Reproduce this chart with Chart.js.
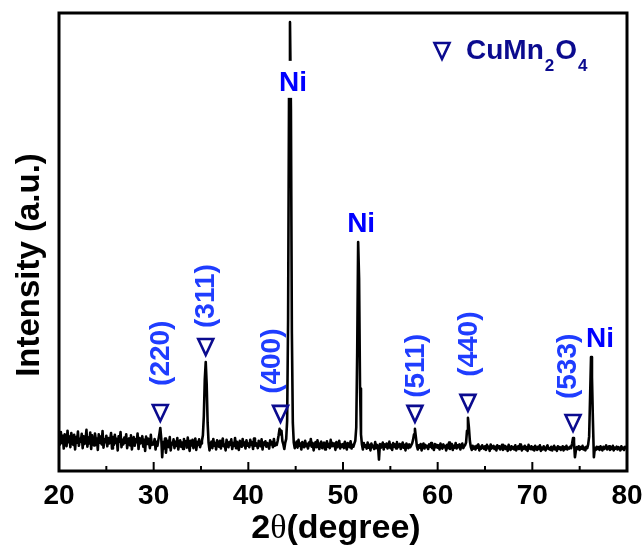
<!DOCTYPE html>
<html>
<head>
<meta charset="utf-8">
<script src="https://cdn.jsdelivr.net/npm/chart.js@4.4.1/dist/chart.umd.min.js"></script>
<style>
  html, body { margin: 0; padding: 0; background: #fff; }
  canvas { display: block; }
</style>
</head>
<body>
<canvas id="xrd" width="643" height="548"></canvas>
<script>
// XRD pattern, 2θ = 20–80°, sampled every 0.1°; one intensity list per 10° span
const STEP = 0.1;

const span20 = [
  72,58,85,61,77,49,80,66,54,88, 63,75,52,83,69,57,79,47,74,62,
  86,55,70,64,81,50,76,59,68,90, 53,73,60,84,48,78,65,56,82,67,
  71,46,80,62,75,58,87,51,69,63, 77,54,72,60,66,83,49,74,57,79,
  61,70,45,76,64,85,52,68,58,73, 62,80,50,67,71,56,78,47,65,74,
  55,69,63,82,48,72,60,66,76,53, 68,44,75,59,71,64,50,79,57,62
];
const span30 = [
  58,70,47,64,55,68,80,94,72,30, 63,49,71,40,60,66,52,74,45,61,
  58,69,50,64,55,72,47,60,67,53, 62,48,70,57,65,51,73,59,44,66,
  56,68,50,61,71,46,63,57,69,52, 60,66,78,120,200,238,190,105,62,45,
  58,64,50,70,55,61,47,67,59,53, 66,49,62,71,54,58,45,68,60,52,
  63,57,69,48,61,55,72,50,64,58, 46,66,59,53,70,56,62,49,67,55
];
const span40 = [
  60,52,68,57,63,48,71,55,61,58, 50,66,59,54,69,47,62,57,65,53,
  61,56,49,67,58,63,52,70,55,60, 57,66,78,92,80,88,65,58,48,62,
  70,110,330,830,980,790,300,105,62,50, 58,64,51,68,55,60,47,63,57,52,
  66,54,59,49,62,56,70,53,61,45, 57,63,52,67,55,48,60,64,50,58,
  62,47,56,65,53,59,50,68,54,61, 55,60,46,63,52,57,66,49,58,53
];
const span50 = [
  59,50,64,54,47,61,56,52,65,49, 57,53,60,66,95,260,500,420,180,80,
  58,47,61,53,56,49,62,51,57,45, 60,52,55,48,63,50,57,54,25,59,
  51,56,62,47,58,53,60,49,55,64, 50,57,46,61,53,58,49,63,52,56,
  59,48,55,62,51,57,45,60,54,50, 58,52,56,60,68,80,92,74,55,47,
  56,51,59,45,54,60,49,57,52,55, 48,58,53,61,50,55,46,59,52,57
];
const span60 = [
  51,56,47,60,53,49,58,52,55,45, 57,50,62,48,54,59,46,55,51,61,
  49,56,52,58,47,55,60,50,54,57, 62,88,116,95,66,52,46,55,49,53,
  47,55,51,58,45,53,49,56,52,48, 54,46,57,50,53,44,58,49,52,55,
  48,53,45,56,50,54,47,52,57,46, 51,55,48,53,44,57,50,46,54,49,
  52,47,56,45,51,54,48,58,50,45, 53,49,55,47,52,44,57,50,48,54
];
const span70 = [
  47,52,45,55,50,46,53,48,56,44, 51,47,54,49,45,52,56,48,50,46,
  53,45,50,55,47,51,44,54,49,52, 46,50,54,45,52,48,55,47,51,49,
  53,50,60,72,63,30,45,52,48,54, 46,52,49,55,47,51,45,53,50,58,
  75,160,249,205,110,30,50,46,53,48, 52,46,54,49,45,53,48,51,56,47,
  50,54,46,52,48,55,45,51,49,53, 47,52,50,45,54,48,51,46,53,50
];
const span80 = [49];

const spans = [[20, span20], [30, span30], [40, span40], [50, span50], [60, span60], [70, span70], [80, span80]];

// Reflection positions (2θ) and their labels
const ni2Theta = [44.4, 51.6, 76.2];
const spinel2Theta = [30.7, 35.5, 43.4, 57.6, 63.2, 74.3];
const spinelHkl = ['(220)', '(311)', '(400)', '(511)', '(440)', '(533)'];
const xTickValues = [20, 30, 40, 50, 60, 70, 80];

const pattern = [];
spans.forEach(([start, vals]) => {
  vals.forEach((v, i) => pattern.push({ x: +(start + i * STEP).toFixed(1), y: v }));
});

function peakHeight(t, half = 0.25) {
  let m = 0;
  pattern.forEach(p => { if (Math.abs(p.x - t) <= half + 1e-9 && p.y > m) m = p.y; });
  return m;
}

const FONT = "'Liberation Sans', Arial, Helvetica, sans-serif";
const NI_BLUE = '#0000ff';
const HKL_BLUE = '#1f3dff';
const NAVY = '#0b0b8f';

function drawTriangle(ctx, cx, bottom, w, h) {
  ctx.beginPath();
  ctx.moveTo(cx - w / 2, bottom - h);
  ctx.lineTo(cx + w / 2, bottom - h);
  ctx.lineTo(cx, bottom);
  ctx.closePath();
  ctx.stroke();
}

const decor = {
  id: 'xrdDecor',
  afterDatasetsDraw(chart) {
    const { ctx, chartArea: a, scales: { x, y } } = chart;
    ctx.save();

    // frame
    ctx.strokeStyle = '#000';
    ctx.lineWidth = 3;
    ctx.strokeRect(a.left, a.top, a.right - a.left, a.bottom - a.top);

    // inward ticks on the 2θ axis
    ctx.lineWidth = 2;
    for (let v = 20; v <= 80; v += 5) {
      const px = x.getPixelForValue(v);
      const len = v % 10 === 0 ? 9 : 5;
      ctx.beginPath();
      ctx.moveTo(px, a.bottom);
      ctx.lineTo(px, a.bottom - len);
      ctx.stroke();
    }

    // Ni reflections
    const niDx = [3, 3, 9];
    ctx.font = `bold 28px ${FONT}`;
    ctx.textAlign = 'center';
    ctx.textBaseline = 'alphabetic';
    ni2Theta.forEach((t, i) => {
      const cx = x.getPixelForValue(t) + niDx[i];
      if (i === 0) {
        // label sits on the strongest line, over a white patch
        const base = y.getPixelForValue(830);
        ctx.fillStyle = '#fff';
        ctx.fillRect(cx - 16, base - 30, 30, 37);
        ctx.fillStyle = NI_BLUE;
        ctx.fillText('Ni', cx, base);
      } else {
        const top = y.getPixelForValue(peakHeight(t));
        ctx.fillStyle = NI_BLUE;
        ctx.fillText('Ni', cx, top - 10);
      }
    });

    // CuMn2O4 reflections: open triangle plus vertical (hkl)
    const hklDx = [0, 0, -9, 0, 0, -6];
    const hklGap = [15, 7, 8, 4, 14, 12];
    spinel2Theta.forEach((t, i) => {
      const cx = x.getPixelForValue(t);
      const top = y.getPixelForValue(peakHeight(t));
      const triBottom = top - 7;
      ctx.strokeStyle = NAVY;
      ctx.lineWidth = 2.6;
      ctx.lineJoin = 'miter';
      drawTriangle(ctx, cx, triBottom, 15, 16);
      ctx.save();
      ctx.translate(cx + hklDx[i], triBottom - 20 - hklGap[i]);
      ctx.rotate(-Math.PI / 2);
      ctx.font = `bold 28px ${FONT}`;
      ctx.textAlign = 'left';
      ctx.textBaseline = 'middle';
      ctx.fillStyle = HKL_BLUE;
      ctx.fillText(spinelHkl[i], 0, 1);
      ctx.restore();
    });

    // legend
    const lx = a.right - 185;
    const ly = a.top + 46;
    ctx.strokeStyle = NAVY;
    ctx.lineWidth = 2.6;
    drawTriangle(ctx, lx, ly, 15, 16);
    ctx.fillStyle = NAVY;
    ctx.textAlign = 'left';
    ctx.textBaseline = 'alphabetic';
    let tx = lx + 24;
    const base = a.top + 46;
    const parts = [['CuMn', 28, 0], ['2', 17, 12], ['O', 28, 0], ['4', 17, 12]];
    parts.forEach(([s, size, drop]) => {
      ctx.font = `bold ${size}px ${FONT}`;
      ctx.fillText(s, tx, base + drop);
      tx += ctx.measureText(s).width + 1;
    });

    // axis titles
    ctx.fillStyle = '#000';
    ctx.save();
    ctx.translate(30, (a.top + a.bottom) / 2 + 23);
    ctx.rotate(-Math.PI / 2);
    ctx.font = `bold 33px ${FONT}`;
    ctx.textAlign = 'center';
    ctx.textBaseline = 'middle';
    ctx.fillText('Intensity (a.u.)', 0, 0);
    ctx.restore();

    const tParts = [['2', `bold 34px ${FONT}`], ['θ', "34px 'Liberation Serif', 'Times New Roman', serif"], ['(degree)', `bold 34px ${FONT}`]];
    let total = 0;
    tParts.forEach(([s, f]) => { ctx.font = f; total += ctx.measureText(s).width; });
    let sx = 336 - total / 2;
    ctx.textAlign = 'left';
    ctx.textBaseline = 'alphabetic';
    tParts.forEach(([s, f]) => { ctx.font = f; ctx.fillText(s, sx, 538); sx += ctx.measureText(s).width; });

    ctx.restore();
  }
};

new Chart(document.getElementById('xrd'), {
  type: 'line',
  data: {
    datasets: [{
      data: pattern,
      borderColor: '#000',
      borderWidth: 2.6,
      borderJoinStyle: 'round',
      pointRadius: 0,
      tension: 0,
      fill: false
    }]
  },
  options: {
    responsive: false,
    animation: false,
    devicePixelRatio: 1,
    layout: { padding: { left: 59, right: 16, top: 13, bottom: 0 } },
    plugins: { legend: { display: false }, tooltip: { enabled: false } },
    scales: {
      x: {
        type: 'linear',
        min: 20,
        max: 80,
        afterBuildTicks: s => { s.ticks = xTickValues.map(v => ({ value: v })); },
        afterFit: s => { s.height = 77; s.paddingLeft = 0; s.paddingRight = 0; },
        grid: { display: false, drawTicks: false },
        border: { display: false },
        ticks: {
          autoSkip: false,
          maxRotation: 0,
          padding: 8,
          color: '#000',
          font: { family: FONT, size: 28, weight: 'bold' }
        }
      },
      y: {
        type: 'linear',
        min: 0,
        max: 1000,
        display: false
      }
    }
  },
  plugins: [decor]
});
</script>
</body>
</html>
